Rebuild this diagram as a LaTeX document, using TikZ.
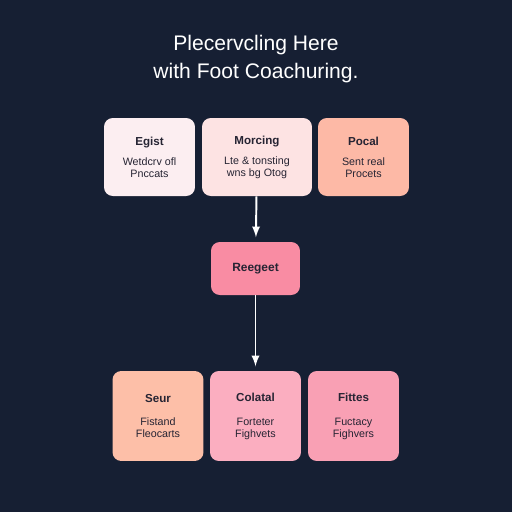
\documentclass[tikz,border=0pt]{standalone}
\usepackage{fontspec}
\setmainfont{Liberation Sans}
\usetikzlibrary{arrows, calc, positioning}

\definecolor{bg}{HTML}{161F33}
\definecolor{ink}{HTML}{262433}
\definecolor{pinkA}{HTML}{FCEEF1}
\definecolor{pinkB}{HTML}{FDE3E3}
\definecolor{pinkC}{HTML}{FDB9A6}
\definecolor{pinkD}{HTML}{F98CA3}
\definecolor{pinkE}{HTML}{FDBFA8}
\definecolor{pinkF}{HTML}{FBAEC0}
\definecolor{pinkG}{HTML}{F9A0B4}

\newcommand{\boxtext}[4][4.6pt]{{\fontsize{6.6pt}{7pt}\selectfont\bfseries #2}\\[#1]#3\\#4}

\begin{document}
\begin{tikzpicture}[x=0.02cm, y=-0.02cm]
  \tikzstyle{every node} = [text = ink, align = center, rounded corners = 5pt, inner sep = 0pt,
    font = \fontsize{6.1pt}{6.8pt}\selectfont];
  \tikzstyle{card} = [minimum width = 1.82cm, minimum height = 1.56cm];
  \tikzstyle{link} = [draw = white, line width = 1.1pt, -latex, shorten > = 2.5pt];

  \fill[bg] (0,0) rectangle (512,512);
  \useasboundingbox (0,0) rectangle (512,512);

  \node[text = white, font = \fontsize{12pt}{15.9pt}\selectfont] (title) at (256,59)
    {Plecervcling Here\\with Foot Coachuring.};

  \node[card, fill = pinkA] (egist) at (149.5,157) {\boxtext{Egist}{Wetdcrv ofl}{Pnccats}};
  \node[card, fill = pinkB, minimum width = 2.2cm] (moring) at (257,157) {\boxtext{Morcing}{Lte \& tonsting}{wns bg Otog}};
  \node[card, fill = pinkC] (pocal) at (363.5,157) {\boxtext{Pocal}{Sent real}{Procets}};

  \node[fill = pinkD, minimum width = 1.78cm, minimum height = 1.06cm,
    font = \fontsize{6.8pt}{7pt}\selectfont\bfseries] (reqeet) at (255.5,268.5) {Reegeet};

  \node[card, fill = pinkE, minimum height = 1.8cm] (seur) at (158,416) {\boxtext[6.8pt]{Seur}{Fistand}{Fleocarts}};
  \node[card, fill = pinkF, minimum height = 1.8cm] (colatal) at (255.5,416) {\boxtext[6.8pt]{Colatal}{Forteter}{Fighvets}};
  \node[card, fill = pinkG, minimum height = 1.8cm] (fittes) at (353.5,416) {\boxtext[6.8pt]{Fittes}{Fuctacy}{Fighvers}};

  \draw[link] (moring) -- (reqeet);
  \draw[link] (reqeet) -- (colatal);
\end{tikzpicture}
\end{document}
